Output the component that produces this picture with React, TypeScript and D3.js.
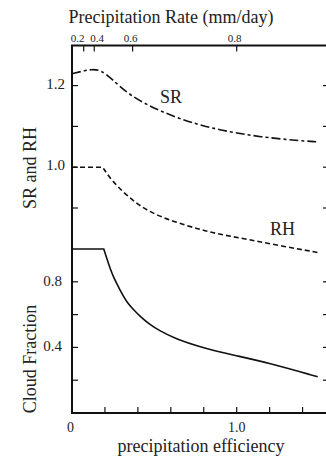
import React from "react";
import * as d3 from "d3";

// ---- data ----
const srEff = [0, 0.07, 0.12, 0.176, 0.237, 0.358, 0.54, 0.743, 0.945, 1.148, 1.35, 1.492];
const srVal = [1.229, 1.236, 1.24, 1.238, 1.218, 1.173, 1.136, 1.106, 1.087, 1.074, 1.066, 1.062];

const rhEff = [0, 0.186, 0.237, 0.338, 0.46, 0.621, 0.773, 0.864, 1.067, 1.269, 1.492];
const rhVal = [1.0, 1.0, 0.969, 0.928, 0.891, 0.866, 0.848, 0.838, 0.823, 0.807, 0.791];

const cfEff = [0, 0.193, 0.2125, 0.2325, 0.2532, 0.2732, 0.3036, 0.334, 0.3746, 0.4147, 0.4754, 0.5264, 0.621, 0.783, 0.985, 1.188, 1.492];
const cfVal = [1.0, 1.0, 0.939, 0.878, 0.827, 0.787, 0.726, 0.675, 0.629, 0.588, 0.537, 0.505, 0.455, 0.4, 0.352, 0.307, 0.221];

const effTicks = [0, 0.2, 0.4, 0.6, 0.8, 1.0, 1.2, 1.4];
const effLabels: Record<number, string> = { 0: "0", 1: "1.0" };

const rateTickLabels = ["0.2", "0.4", "0.6", "0.8"];
const rateTickEff = [0.071, 0.135, 0.368, 1.0];

const srTicks = [0.9, 1.0, 1.1, 1.2];
const srLabels: Record<number, string> = { 1.2: "1.2", 1.0: "1.0" };
const cfTicks = [0.2, 0.4, 0.6, 0.8];
const cfLabels: Record<number, string> = { 0.8: "0.8", 0.4: "0.4" };

const W = 326;
const H = 456;
const FS = { fontFamily: "Liberation Serif" };
const INK = "#222";

export default function App() {
  const left = 72;
  const right = 329;
  const top = 45.5;
  const bottom = 413;

  const x = d3.scaleLinear().domain([0, (right - left) / 164.7]).range([left, right]);
  const ySR = d3.scaleLinear().domain([1.0, 1.2]).range([167.2, 85.6]);
  const yCF = d3.scaleLinear().domain([0, 1]).range([bottom, 249]);

  const smooth = (pts: [number, number][]) =>
    d3.line<[number, number]>().x((d) => d[0]).y((d) => d[1]).curve(d3.curveBasis)(pts) || "";

  const srPts: [number, number][] = srEff.map((e, i) => [x(e), ySR(srVal[i])]);
  const srPath = smooth(srPts);

  // flat part then curved part, with a sharp corner
  const cornered = (effs: number[], vals: number[], ys: (v: number) => number) => {
    const flat: [number, number] = [x(effs[0]), ys(vals[0])];
    const rest: [number, number][] = effs.slice(1).map((e, i) => [x(e), ys(vals[i + 1])]);
    const c = smooth(rest);
    return `M${flat[0]},${flat[1]}L` + c.slice(1);
  };
  const rhPath = cornered(rhEff, rhVal, (v) => ySR(v));
  const cfPath = cornered(cfEff, cfVal, (v) => yCF(v));

  const tickLen = 6;

  return (
    <svg width={W} height={H} style={{ position: "absolute", left: 0, top: 0, background: "#fff" }}>
      {/* axes frame */}
      <g stroke="#111" strokeWidth={2} fill="none">
        <line x1={left} y1={top} x2={left} y2={bottom + 1} />
        <line x1={left - 1} y1={bottom} x2={right} y2={bottom} />
        <line x1={left - 1} y1={top} x2={right} y2={top} />
        <line x1={right} y1={top} x2={right} y2={bottom} />
      </g>

      {/* ticks */}
      <g stroke="#111" strokeWidth={1.2}>
        {effTicks.filter((t) => t > 0).map((t) => (
          <line key={"b" + t} x1={x(t)} x2={x(t)} y1={bottom} y2={bottom - tickLen} />
        ))}
        {rateTickEff.map((t, i) => (
          <line key={"t" + i} x1={x(t)} x2={x(t)} y1={top} y2={top + tickLen} />
        ))}
        {srTicks.map((t) => (
          <g key={"s" + t}>
            <line x1={left} x2={left + tickLen} y1={ySR(t)} y2={ySR(t)} />
            <line x1={right} x2={right - tickLen} y1={ySR(t)} y2={ySR(t)} />
          </g>
        ))}
        {cfTicks.map((t) => (
          <g key={"c" + t}>
            <line x1={left} x2={left + tickLen} y1={yCF(t)} y2={yCF(t)} />
            <line x1={right} x2={right - tickLen} y1={yCF(t)} y2={yCF(t)} />
          </g>
        ))}
      </g>

      {/* curves */}
      <g fill="none" stroke="#111" strokeWidth={1.6}>
        <path d={srPath} strokeDasharray="9,3,3,3" />
        <path d={rhPath} strokeDasharray="5,3" />
        <path d={cfPath} />
      </g>

      {/* tick labels */}
      <g fill={INK}>
        {effTicks.filter((t) => effLabels[t] !== undefined).map((t) => (
          <text key={"bl" + t} style={FS} x={x(t) - (t === 0 ? 1.5 : 0)} y={432} fontSize={14} textAnchor="middle">
            {effLabels[t]}
          </text>
        ))}
        {rateTickEff.map((t, i) => (
          <text key={"tl" + i} style={FS} x={x(t) - (i === 0 ? 6 : i === 1 ? -3 : 2)} y={42} fontSize={11} textAnchor="middle">
            {rateTickLabels[i]}
          </text>
        ))}
        {srTicks.filter((t) => srLabels[t] !== undefined).map((t) => (
          <text key={"sl" + t} style={FS} x={65} y={ySR(t) + 3} fontSize={15} textAnchor="end">
            {srLabels[t]}
          </text>
        ))}
        {cfTicks.filter((t) => cfLabels[t] !== undefined).map((t) => (
          <text key={"cl" + t} style={FS} x={62} y={yCF(t) + 4} fontSize={15} textAnchor="end">
            {cfLabels[t]}
          </text>
        ))}
      </g>

      {/* titles */}
      <g fill={INK} fontSize={18}>
        <text style={FS} x={171} y={23} textAnchor="middle">Precipitation Rate (mm/day)</text>
        <text style={FS} x={201} y={452} textAnchor="middle">precipitation efficiency</text>
        <text style={FS} transform="translate(36,168) rotate(-90)" textAnchor="middle">SR and RH</text>
        <text style={FS} transform="translate(36,359) rotate(-90)" textAnchor="middle">Cloud Fraction</text>
        <text style={FS} x={160} y={103}>SR</text>
        <text style={FS} x={270} y={235}>RH</text>
      </g>
    </svg>
  );
}
